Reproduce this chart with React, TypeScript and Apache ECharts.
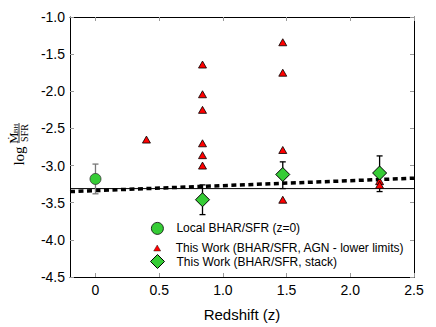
import React, { useEffect, useRef } from "react";
import * as echarts from "echarts";

const xTicks = [0, 0.5, 1.0, 1.5, 2.0, 2.5];
const yTicks = [-4.5, -4.0, -3.5, -3.0, -2.5, -2.0, -1.5, -1.0];

// Local BHAR/SFR (z=0): [z, value]
const localPoints = [[0, -3.18]];
const localErr = [[0, -3.38, -2.98]];

// AGN lower limits: [z, value]
const agnPoints = [
  [0.4, -2.65],
  [0.84, -1.64], [0.84, -2.04], [0.84, -2.25], [0.84, -2.7], [0.84, -2.86], [0.84, -3.0],
  [1.47, -1.34], [1.47, -1.75], [1.47, -2.79], [1.47, -3.46],
  [2.23, -3.21], [2.23, -3.26],
];

// Stacks: [z, value]
const stackPoints = [[0.84, -3.46], [1.47, -3.12], [2.23, -3.1]];
const stackErr = [[0.84, -3.66, -3.26], [1.47, -3.31, -2.95], [2.23, -3.35, -2.87]];

const fitLine = [[-0.2, -3.35], [2.5, -3.17]];
const localLevel = [[-0.2, -3.31], [2.5, -3.31]];

const names = [
  "Local BHAR/SFR (z=0)",
  "This Work (BHAR/SFR, AGN - lower limits)",
  "This Work (BHAR/SFR, stack)",
];

const FONT = "Liberation Sans";
const GREEN = "#36cc36";

function errRender(color: string) {
  return (params: any, api: any) => {
    const x = api.value(0);
    const p1 = api.coord([x, api.value(1)]);
    const p2 = api.coord([x, api.value(2)]);
    const c = 3;
    const st = { stroke: color, lineWidth: 1.3 };
    return {
      type: "group",
      children: [
        { type: "line", shape: { x1: p1[0], y1: p1[1], x2: p2[0], y2: p2[1] }, style: st },
        { type: "line", shape: { x1: p1[0] - c, y1: p1[1], x2: p1[0] + c, y2: p1[1] }, style: st },
        { type: "line", shape: { x1: p2[0] - c, y1: p2[1], x2: p2[0] + c, y2: p2[1] }, style: st },
      ],
    };
  };
}

export default function App() {
  const ref = useRef<HTMLDivElement>(null);
  useEffect(() => {
    const chart = echarts.init(ref.current!, null, { renderer: "svg" });
    const tickStyle = { show: true, inside: true, length: 4, lineStyle: { color: "#999" } };
    const option: any = {
      animation: false,
      backgroundColor: "#fff",
      grid: { left: 70, right: 22, top: 17, bottom: 50, containLabel: false, outerBoundsMode: "none" },
      xAxis: [
        {
          type: "value", min: -0.2, max: 2.5, position: "bottom",
          name: "Redshift (z)", nameLocation: "middle", nameGap: 30,
          nameTextStyle: { fontFamily: FONT, fontSize: 15, color: "#000" },
          axisLine: { show: true, lineStyle: { color: "#000", width: 1 } },
          axisTick: { ...tickStyle, customValues: xTicks },
          axisLabel: {
            customValues: xTicks, margin: 6, fontFamily: FONT, fontSize: 14, color: "#000",
            formatter: (v: number) => (v === 0 ? "0" : v.toFixed(1)),
          },
          splitLine: { show: false },
        },
        {
          type: "value", min: -0.2, max: 2.5, position: "top",
          axisLine: { show: true, onZero: false, lineStyle: { color: "#000", width: 1 } },
          axisTick: { ...tickStyle, customValues: xTicks },
          axisLabel: { show: false },
          splitLine: { show: false },
        },
      ],
      yAxis: [
        {
          type: "value", min: -4.5, max: -1.0, interval: 0.5, position: "left",
          axisLine: { show: true, onZero: false, lineStyle: { color: "#000", width: 1 } },
          axisTick: tickStyle,
          axisLabel: {
            margin: 5, fontFamily: FONT, fontSize: 14, color: "#000",
            formatter: (v: number) => v.toFixed(1),
          },
          splitLine: { show: false },
        },
        {
          type: "value", min: -4.5, max: -1.0, interval: 0.5, position: "right",
          axisLine: { show: true, onZero: false, lineStyle: { color: "#000", width: 1 } },
          axisTick: tickStyle,
          axisLabel: { show: false },
          splitLine: { show: false },
        },
      ],
      legend: [
        {
          data: [{ name: names[0], itemStyle: { color: GREEN, borderColor: "#000", borderWidth: 0.8 } }],
          left: 151, top: 222, padding: 0, itemWidth: 12, itemHeight: 12,
          textStyle: { fontFamily: FONT, fontSize: 12, color: "#000", padding: [0, 0, 0, 8] },
          selectedMode: false,
        },
        {
          data: [{ name: names[1], itemStyle: { color: "#ff0000", borderColor: "#000", borderWidth: 0.4 } }],
          left: 153.5, top: 242, padding: 0, itemWidth: 7, itemHeight: 6,
          textStyle: { fontFamily: FONT, fontSize: 12, color: "#000", padding: [0, 0, 0, 10] },
          selectedMode: false,
        },
        {
          data: [{ name: names[2], itemStyle: { color: GREEN, borderColor: "#000", borderWidth: 1 } }],
          left: 150, top: 254, padding: 0, itemWidth: 14, itemHeight: 14,
          textStyle: { fontFamily: FONT, fontSize: 12, color: "#000", padding: [0, 0, 0, 7] },
          selectedMode: false,
        },
      ],
      series: [
        {
          type: "line", data: localLevel, symbol: "none", silent: true, z: 1,
          lineStyle: { color: "#000", width: 1 },
        },
        {
          type: "line", data: fitLine, symbol: "none", silent: true, z: 2,
          lineStyle: { color: "#000", width: 3.5, type: [5, 3.5] },
        },
        { type: "custom", data: localErr, renderItem: errRender("#777"), z: 3, silent: true },
        { type: "custom", data: stackErr, renderItem: errRender("#000"), z: 3, silent: true },
        {
          name: names[0], type: "scatter", data: localPoints, symbol: "circle", symbolSize: 11, z: 4,
          itemStyle: { color: GREEN, borderColor: "#333", borderWidth: 0.8, opacity: 1 },
        },
        {
          name: names[1], type: "scatter", data: agnPoints, symbol: "triangle", symbolSize: [8, 7], z: 5,
          itemStyle: { color: "#ff0000", borderColor: "#000", borderWidth: 0.8, opacity: 1 },
        },
        {
          name: names[2], type: "scatter", data: stackPoints, symbol: "diamond", symbolSize: 14, z: 6,
          itemStyle: { color: GREEN, borderColor: "#000", borderWidth: 1, opacity: 1 },
        },
      ],
      graphic: [
        {
          type: "group", x: 19, y: 145, rotation: Math.PI / 2,
          children: [
            {
              type: "text", x: -11, y: 0,
              style: { text: "log", font: '15px "Liberation Serif"', fill: "#000", align: "center", verticalAlign: "middle" },
            },
            {
              type: "text", x: 7, y: -5,
              style: { text: "Ṁ", font: '11px "DejaVu Serif"', fill: "#000", align: "center", verticalAlign: "middle" },
            },
            {
              type: "text", x: 16.5, y: -3,
              style: { text: "BH", font: '7px "Liberation Serif"', fill: "#000", align: "center", verticalAlign: "middle" },
            },
            { type: "line", shape: { x1: 2, y1: 0, x2: 22, y2: 0 }, style: { stroke: "#000", lineWidth: 0.8 } },
            {
              type: "text", x: 12, y: 5, style: { text: "SFR", font: '10px "Liberation Serif"', fill: "#000", align: "center", verticalAlign: "middle" },
            },
          ],
        },
      ],
    };
    chart.setOption(option);
    return () => chart.dispose();
  }, []);
  return <div ref={ref} style={{ position: "fixed", left: 0, top: 0, width: 436, height: 327 }} />;
}
